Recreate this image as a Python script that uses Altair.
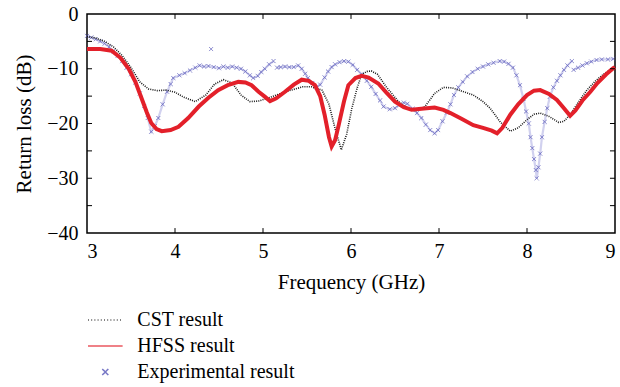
import altair as alt
import pandas as pd

# ---------------- data ----------------
cst_f = [3.00, 3.10, 3.20, 3.30, 3.40, 3.50, 3.60, 3.70, 3.80, 3.90, 4.00, 4.10, 4.23, 4.35, 4.45,
         4.55, 4.65, 4.75, 4.85, 4.95, 5.05, 5.15, 5.30, 5.45, 5.55, 5.67, 5.75, 5.82, 5.89, 5.95,
         6.01, 6.07, 6.12, 6.18, 6.23, 6.30, 6.40, 6.54, 6.65, 6.73, 6.84, 6.95, 7.05, 7.15, 7.28,
         7.39, 7.50, 7.58, 7.70, 7.81, 7.90, 8.00, 8.08, 8.15, 8.25, 8.36, 8.42, 8.49, 8.58, 8.68,
         8.78, 8.87, 8.98, 9.00]
cst_db = [-4.1, -4.4, -5.0, -6.0, -7.6, -9.8, -12.4, -13.7, -14.0, -13.9, -14.3, -15.2, -16.0, -14.8, -12.8,
          -12.0, -12.6, -14.8, -16.0, -15.9, -15.4, -14.8, -14.0, -13.3, -13.3, -13.9, -16.5, -21.0, -24.8, -22.0,
          -17.2, -13.5, -11.1, -10.5, -10.4, -11.0, -13.3, -16.0, -17.3, -17.7, -16.9, -14.5, -13.4, -13.5, -14.2,
          -14.8, -16.0, -17.2, -19.8, -21.4, -20.8, -19.3, -18.3, -18.1, -18.7, -19.8, -19.6, -18.4, -16.2, -13.9,
          -12.2, -11.0, -9.8, -9.6]

hfss_f = [3.00, 3.15, 3.28, 3.38, 3.47, 3.55, 3.62, 3.68, 3.73, 3.79, 3.85, 3.95, 4.04, 4.15, 4.27,
          4.38, 4.49, 4.60, 4.72, 4.80, 4.87, 4.95, 5.02, 5.08, 5.15, 5.25, 5.35, 5.44, 5.52, 5.59,
          5.65, 5.70, 5.75, 5.78, 5.82, 5.86, 5.92, 5.97, 6.05, 6.12, 6.20, 6.31, 6.40, 6.50, 6.60,
          6.69, 6.80, 6.95, 7.05, 7.13, 7.25, 7.39, 7.50, 7.60, 7.66, 7.72, 7.81, 7.90, 8.00, 8.08,
          8.15, 8.25, 8.34, 8.42, 8.49, 8.55, 8.63, 8.72, 8.80, 8.90, 8.98, 9.00]
hfss_db = [-6.4, -6.4, -6.7, -8.0, -9.9, -12.4, -15.4, -18.0, -19.9, -21.0, -21.4, -21.2, -20.6, -19.0, -16.9,
           -15.3, -13.9, -13.0, -12.4, -12.5, -13.0, -14.2, -15.1, -15.9, -15.4, -14.2, -12.9, -12.0, -12.2, -13.0,
           -15.0, -18.4, -22.5, -24.2, -23.0, -20.3, -16.0, -13.0, -11.7, -11.3, -11.6, -12.7, -14.3, -16.0, -17.0,
           -17.5, -17.3, -17.1, -17.5, -18.1, -19.1, -20.3, -20.8, -21.3, -21.8, -20.8, -18.4, -16.5, -14.8, -14.0,
           -13.9, -14.6, -15.7, -17.2, -18.6, -17.6, -15.8, -14.2, -12.6, -11.0, -9.9, -9.7]

# measured data, in the separate pieces in which it was drawn
exp_seg1_f = [3.00, 3.05, 3.10, 3.15, 3.20, 3.25, 3.30, 3.35, 3.40, 3.45, 3.50, 3.55, 3.60, 3.65, 3.69,
              3.73, 3.77, 3.81, 3.86, 3.91, 3.95, 3.98, 4.05, 4.11, 4.17, 4.23, 4.28, 4.33, 4.38, 4.44,
              4.50, 4.55, 4.60, 4.65, 4.70, 4.75, 4.80, 4.85, 4.89, 4.94, 4.98, 5.02, 5.07, 5.12]
exp_seg1_db = [-4.0, -4.3, -4.6, -5.0, -5.4, -6.0, -6.8, -7.6, -8.6, -9.8, -11.0, -12.5, -14.5, -16.8, -19.0,
               -21.5, -20.5, -19.0, -16.5, -14.2, -12.8, -11.7, -11.2, -10.8, -10.3, -9.8, -9.4, -9.6, -9.5, -9.7,
               -9.9, -9.6, -9.8, -9.6, -9.8, -10.0, -10.5, -11.2, -11.7, -11.3, -10.6, -10.0, -9.2, -8.6]
exp_seg2_f = [5.16, 5.20, 5.25, 5.30, 5.35, 5.40, 5.44, 5.48, 5.51, 5.56, 5.61, 5.65, 5.70, 5.74, 5.78,
              5.82, 5.87, 5.92, 5.97, 6.02, 6.07, 6.12, 6.18, 6.23, 6.28, 6.33, 6.37, 6.44, 6.50, 6.55,
              6.60, 6.64, 6.70, 6.75, 6.80, 6.85, 6.90, 6.95, 6.99, 7.04, 7.09, 7.13, 7.17, 7.22, 7.27,
              7.32, 7.38, 7.44, 7.50, 7.56, 7.62, 7.69, 7.74, 7.79, 7.84, 7.88, 7.92, 7.96, 7.99, 8.02,
              8.04, 8.06, 8.08, 8.10, 8.11, 8.13, 8.15, 8.17, 8.20, 8.23, 8.26, 8.30, 8.34, 8.38, 8.42,
              8.46, 8.51]
exp_seg2_db = [-9.8, -9.7, -9.6, -9.7, -9.7, -9.4, -10.0, -10.9, -11.7, -12.6, -13.3, -12.9, -11.6, -10.5, -9.7,
               -9.2, -8.8, -8.6, -8.7, -9.3, -10.2, -11.0, -12.2, -13.3, -14.6, -15.8, -16.9, -17.4, -17.2, -16.6,
               -16.2, -16.4, -17.3, -18.1, -19.0, -20.2, -21.2, -21.8, -21.2, -19.6, -18.0, -16.5, -14.8, -13.4, -12.4,
               -11.4, -10.6, -10.0, -9.6, -9.2, -8.9, -8.6, -8.7, -9.1, -9.8, -11.2, -13.0, -15.5, -17.8, -20.0,
               -22.5, -24.5, -26.5, -28.5, -30.0, -28.0, -25.5, -22.5, -19.7, -17.2, -15.1, -13.4, -12.2, -11.2, -10.2,
               -9.4, -8.6]
exp_seg3_f = [8.53, 8.58, 8.63, 8.68, 8.73, 8.79, 8.85, 8.92, 8.98]
exp_seg3_db = [-10.2, -9.8, -9.4, -9.0, -8.7, -8.4, -8.3, -8.3, -8.2]
exp_out_f = [4.41]
exp_out_db = [-6.4]

series_names = ["CST result", "HFSS result", "Experimental result"]
series_colors = ["#1a1a1a", "#e3202a", "#4b4bb4"]
x_ticks = [3, 4, 5, 6, 7, 8, 9]
y_ticks = [-40, -35, -30, -25, -20, -15, -10, -5, 0]

# ---------------- tables ----------------
cst = pd.DataFrame({"f": cst_f, "db": cst_db, "series": series_names[0]})
hfss = pd.DataFrame({"f": hfss_f, "db": hfss_db, "series": series_names[1]})
exp_parts = []
for i, (ff, dd) in enumerate([(exp_seg1_f, exp_seg1_db), (exp_seg2_f, exp_seg2_db),
                              (exp_seg3_f, exp_seg3_db), (exp_out_f, exp_out_db)]):
    exp_parts.append(pd.DataFrame({"f": ff, "db": dd, "seg": i, "series": series_names[2]}))
exp = pd.concat(exp_parts, ignore_index=True)

inner_x = pd.DataFrame({"t": x_ticks[1:-1]})
inner_y = pd.DataFrame({"t": y_ticks[1:-1]})

FONT = "'Liberation Serif', 'DejaVu Serif', serif"
xs = alt.Scale(domain=[3, 9], nice=False, zero=False)
ys = alt.Scale(domain=[-40, 0], nice=False, zero=False)
cscale = alt.Scale(domain=series_names, range=series_colors)
LINE_PATH = "M-2,0L2,0"
X_PATH = "M-0.35,-0.35L0.35,0.35M-0.35,0.35L0.35,-0.35"
shape_scale = alt.Scale(domain=series_names, range=[LINE_PATH, LINE_PATH, X_PATH])
dash_scale = alt.Scale(domain=series_names, range=[[1, 2.2], [1, 0], [1, 0]])

X = alt.X("f:Q", scale=xs, title="Frequency (GHz)",
          axis=alt.Axis(values=x_ticks, ticks=False, domain=False, grid=False, labelPadding=8,
                        titlePadding=10, format="d"))
Y = alt.Y("db:Q", scale=ys, title="Return loss (dB)",
          axis=alt.Axis(values=y_ticks, ticks=False, domain=False, grid=False, labelPadding=9,
                        titlePadding=12, format="d"))

cst_layer = alt.Chart(cst).mark_line(strokeWidth=1.6, strokeDash=[1, 1.2], color=series_colors[0]).encode(
    x=X, y=Y)
hfss_layer = alt.Chart(hfss).mark_line(strokeWidth=4, color=series_colors[1]).encode(
    x=alt.X("f:Q", scale=xs), y=alt.Y("db:Q", scale=ys))
exp_line = alt.Chart(exp).mark_line(strokeWidth=2.2, opacity=0.35, color="#7b7bd0").encode(
    x=alt.X("f:Q", scale=xs), y=alt.Y("db:Q", scale=ys), detail="seg:N")
legend = alt.Legend(title=None, orient="none", legendX=8.3, legendY=296, padding=0,
                    labelFont=FONT, labelFontSize=20, labelColor="black",
                    symbolSize=300, symbolStrokeWidth=1.5, rowPadding=6, labelOffset=22,
                    symbolFillColor="transparent")
exp_pts = alt.Chart(exp).mark_point(filled=False, size=130, strokeWidth=1, opacity=0.75).encode(
    x=alt.X("f:Q", scale=xs), y=alt.Y("db:Q", scale=ys),
    color=alt.Color("series:N", scale=cscale, legend=legend),
    shape=alt.Shape("series:N", scale=shape_scale, legend=legend),
    strokeDash=alt.StrokeDash("series:N", scale=dash_scale, legend=legend))

tick_len_y = 0.9
tick_len_x = 0.057
ticks_bottom = alt.Chart(inner_x).mark_rule(color="black", strokeWidth=1).encode(
    x=alt.X("t:Q", scale=xs), y=alt.datum(-40, scale=ys), y2=alt.datum(-40 + tick_len_y))
ticks_top = alt.Chart(inner_x).mark_rule(color="black", strokeWidth=1).encode(
    x=alt.X("t:Q", scale=xs), y=alt.datum(0, scale=ys), y2=alt.datum(-tick_len_y))
ticks_left = alt.Chart(inner_y).mark_rule(color="black", strokeWidth=1).encode(
    y=alt.Y("t:Q", scale=ys), x=alt.datum(3, scale=xs), x2=alt.datum(3 + tick_len_x))
ticks_right = alt.Chart(inner_y).mark_rule(color="black", strokeWidth=1).encode(
    y=alt.Y("t:Q", scale=ys), x=alt.datum(9, scale=xs), x2=alt.datum(9 - tick_len_x))

chart = alt.layer(
    exp_line, exp_pts, cst_layer, hfss_layer, ticks_bottom, ticks_top, ticks_left, ticks_right
).properties(
    width=528, height=219,
    autosize=alt.AutoSizeParams(type="none"),
    padding={"left": 87, "top": 14, "right": 5, "bottom": 154},
).configure_view(
    stroke="black", strokeWidth=1.5
).configure_axis(
    labelFont=FONT, titleFont=FONT, labelFontSize=20, titleFontSize=21,
    labelColor="black", titleColor="black", titleFontWeight="normal",
)

chart.save("out.html", embed_options={"renderer": "svg", "actions": False})
